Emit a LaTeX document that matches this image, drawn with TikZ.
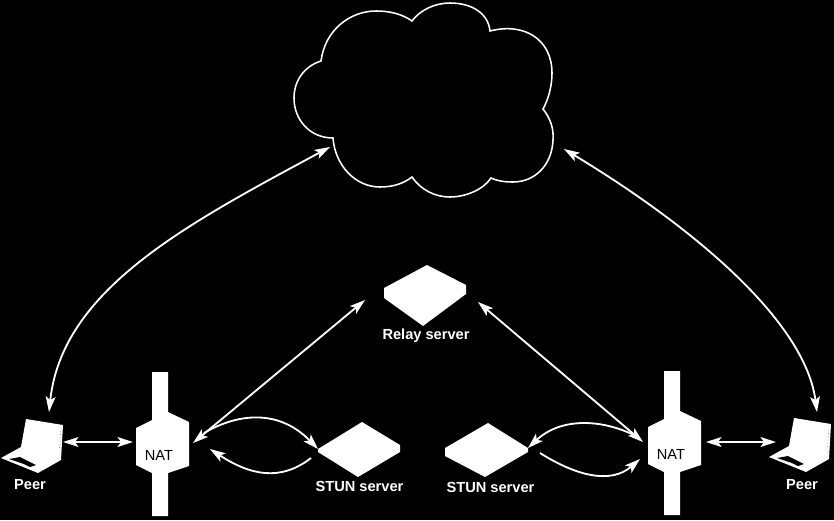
\documentclass[tikz,border=0pt]{standalone}
\usepackage{fontspec}
\setmainfont{Liberation Sans}
\usetikzlibrary{arrows.meta}
\newcommand{\natdev}[3]{%
  \fill[white, shift={(#2,#3)}] (-8,-72) -- (8,-72) -- (8,-32) -- (29,-22) -- (29,22) -- (8,29) -- (8,72) -- (-8,72)
    -- (-8,29) -- (-24,21) -- (-24,-16) -- (-8,-24) -- cycle;
  \node[nattext] (#1) at ({#2-1},{#3+11}) {NAT};}
\newcommand{\laptop}[2]{%
  \begin{scope}[shift={(#1,#2)}]
    \fill[white] (26,419) -- (63,425) -- (61,460) -- (38,473) -- (1,458) -- (21,447) -- cycle;
    \fill[black] (9,459) -- (20,457) -- (36,465) -- (30,467) -- (24,464) -- cycle;
    \draw[black, line width=0.3pt, dotted] (61,428) -- (59,458);
  \end{scope}}
\begin{document}
\begin{tikzpicture}[x=0.025cm, y=-0.025cm,
  hostlabel/.style={font=\bfseries\fontsize{10.4}{12}\selectfont, text=white, inner sep=0pt},
  nattext/.style={font=\fontsize{10.4}{12}\selectfont, text=black, inner sep=0pt},
  link/.style={draw=white, line width=1.3pt, -{Stealth[length=11pt, width=7pt, inset=2.5pt]}},
  duplex/.style={link, {Stealth[length=11pt, width=7pt, inset=2.5pt]}-{Stealth[length=11pt, width=7pt, inset=2.5pt]}}]
\fill[black] (0,0) rectangle (834,520);
% ---- the cloud: seven lobes, clockwise from the upper left ----
\draw[white, line width=1.1pt, fill=black] (321,61) .. controls (325,30) and (350,11) .. (376,11)
  .. controls (390,11) and (402,14) .. (412,21)
  .. controls (420,10) and (435,3) .. (450,3) .. controls (470,3) and (488,12) .. (490,31)
  .. controls (525,22) and (552,40) .. (552,73) .. controls (552,85) and (549,98) .. (543,109)
  .. controls (550,118) and (554,128) .. (553,140) .. controls (552,165) and (535,182) .. (513,182)
  .. controls (505,182) and (497,181) .. (491,178)
  .. controls (483,190) and (465,197) .. (450,197) .. controls (435,197) and (421,190) .. (412,177)
  .. controls (403,184) and (392,187) .. (380,187) .. controls (355,187) and (335,165) .. (333,138)
  .. controls (310,138) and (294,120) .. (294,98) .. controls (294,80) and (305,66) .. (321,61) -- cycle;
% ---- the devices ----
\natdev{natL}{160}{444}
\natdev{natR}{672}{443}
\laptop{0}{0}
\laptop{768}{-1}
\fill[white] (384,288) -- (427,265) -- (466,285) -- (466,294) -- (423,326) -- (384,298) -- cycle;
\fill[white] (318,449) -- (362,422) -- (400,445) -- (400,452) -- (358,477) -- (318,452) -- cycle;
\fill[white] (445,448) -- (488,423) -- (528,448) -- (528,452) -- (485,477) -- (445,456) -- cycle;
% ---- labels ----
\node[hostlabel] (peerL) at (30,485) {Peer};
\node[hostlabel] (peerR) at (802,485) {Peer};
\node[hostlabel] (stunL) at (359.5,486) {STUN server};
\node[hostlabel] (stunR) at (490.5,487) {STUN server};
\node[hostlabel] (relay) at (426,336) {Relay server};
% ---- connector ends ----
\coordinate (cloudL) at (330,147);
\coordinate (cloudR) at (564,149);
\coordinate (peerLtop) at (49,412);
\coordinate (peerRtop) at (817,412);
\coordinate (peerLside) at (63,442);
\coordinate (peerRside) at (776,442);
\coordinate (natLwest) at (133,442);
\coordinate (natReast) at (706,442);
\coordinate (natLeast) at (193,443);
\coordinate (natRwest) at (643,442);
\coordinate (relayL) at (365,300);
\coordinate (relayR) at (478,302);
\coordinate (natLarc) at (204,433);
\coordinate (stunLin) at (318,449);
\coordinate (stunLout) at (311,458);
\coordinate (natLback) at (210,449);
\coordinate (natRarc) at (636,436);
\coordinate (stunRin) at (528,448);
\coordinate (stunRout) at (540,453);
\coordinate (natRback) at (640,459);
% ---- connectors ----
\draw[duplex] (peerLtop) .. controls (62,290) and (185,225) .. (cloudL);
\draw[duplex] (peerRtop) .. controls (805,320) and (690,225) .. (cloudR);
\draw[duplex] (peerLside) -- (natLwest);
\draw[duplex] (peerRside) -- (natReast);
\draw[duplex] (natLeast) -- (relayL);
\draw[duplex] (natRwest) -- (relayR);
\draw[link] (natLarc) .. controls (240,412) and (280,410) .. (stunLin);
\draw[link] (stunLout) .. controls (280,482) and (250,475) .. (natLback);
\draw[link] (natRarc) .. controls (600,418) and (560,418) .. (stunRin);
\draw[link] (stunRout) .. controls (575,475) and (610,485) .. (natRback);
\end{tikzpicture}
\end{document}
